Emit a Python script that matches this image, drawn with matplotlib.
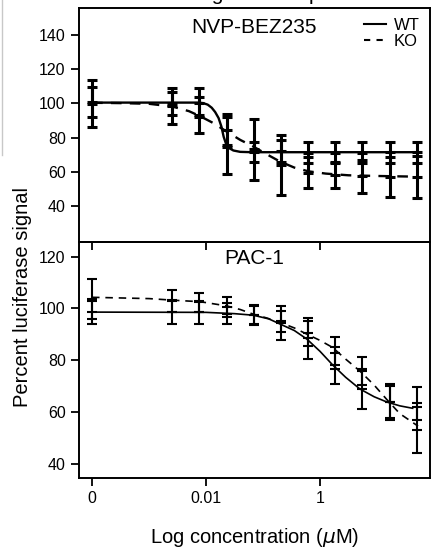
import numpy as np
import matplotlib
matplotlib.use("Agg")
import matplotlib.pyplot as plt
from matplotlib.lines import Line2D

plt.rcParams['font.family'] = ['Liberation Sans', 'DejaVu Sans']

####################### DATA #######################
# concentrations in uM, the "0" well is drawn at log10 = -4
conc = [0, 0.00254, 0.00762, 0.0229, 0.0686, 0.206, 0.617, 1.85, 5.56, 16.7, 50]
zero_pos = -4

# NVP-BEZ235 (top)
nvp_wt_mean = [100.7, 100.0, 100.5, 75.5, 71.7, 72.2, 71.3, 71.3, 71.3, 71.5, 71.5]
nvp_wt_err = [8.8, 6.8, 8.3, 16.8, 5.9, 6.3, 6.3, 6.3, 6.3, 6.1, 6.1]
nvp_ko_mean = [99.9, 98.4, 93.2, 84.2, 73.2, 64.0, 59.6, 58.0, 57.4, 57.2, 56.9]
nvp_ko_err = [13.9, 10.4, 10.7, 9.6, 18.0, 17.5, 9.2, 7.6, 9.6, 11.7, 12.4]

# fitted curves (log10 conc, percent)
nvp_wt_fit_x = [-4, -2.15, -2.05, -1.97, -1.9, -1.84, -1.78, -1.73, -1.69, -1.65, -1.6, -1.52, -1.4, -1.2, 1.7]
nvp_wt_fit_y = [100.5, 100.5, 100.2, 99.3, 97.5, 95, 91.5, 86.5, 80.5, 76.5, 74, 72.5, 71.7, 71.5, 71.5]
nvp_ko_fit_x = [-4, -3.5, -3.0, -2.59, -2.3, -2.1, -1.87, -1.64, -1.4, -1.17, -0.93, -0.7, -0.45, -0.2, 0.1, 0.5, 1.0, 1.7]
nvp_ko_fit_y = [100.4, 100.2, 99.8, 98.2, 95.5, 92.5, 88.5, 83.6, 78.7, 74.8, 70.2, 66, 62.5, 60.3, 59, 58, 57.6, 57.2]

# PAC-1 (bottom)
pac_wt_mean = [98.5, 98.7, 98.5, 98.0, 97.5, 94.5, 88.5, 78.1, 68.9, 64.0, 63.5]
pac_wt_err = [4.5, 4.7, 4.5, 4.0, 3.5, 6.5, 8.0, 7.0, 7.7, 6.0, 6.3]
pac_ko_mean = [103.6, 103.0, 102.3, 100.5, 97.5, 95.0, 90.4, 83.0, 76.0, 64.0, 53.2]
pac_ko_err = [7.7, 4.2, 3.6, 3.8, 4.0, 4.0, 4.8, 6.2, 5.3, 7.0, 9.0]

pac_wt_fit_x = [-4, -2, -1.5, -1.17, -0.9, -0.7, -0.45, -0.23, 0, 0.22, 0.45, 0.7, 0.95, 1.17, 1.4, 1.64]
pac_wt_fit_y = [98.6, 98.5, 98, 97.4, 96, 94, 91.5, 88.2, 83.5, 78.3, 73.5, 69, 66, 64, 62.5, 61.5]
pac_ko_fit_x = [-4, -3, -2.59, -2.1, -1.64, -1.4, -1.17, -0.93, -0.7, -0.45, -0.23, 0, 0.22, 0.45, 0.7, 0.95, 1.17, 1.4, 1.72]
pac_ko_fit_y = [104.3, 103.8, 103.2, 102.6, 101, 99.6, 97.8, 96.3, 94.6, 92.5, 90.1, 87.7, 85, 80.5, 75.9, 70.5, 65, 59.5, 54.7]

x_ticks = [-4, -2, 0]
x_ticklabels = ['0', '0.01', '1']

####################### PLOT #######################
x_pos = np.array([zero_pos if c == 0 else np.log10(c) for c in conc])

fig = plt.figure(figsize=(4.41, 5.49), dpi=100)
ax1 = fig.add_axes([0.179, 0.5592, 0.796, 0.4262])
ax2 = fig.add_axes([0.179, 0.1293, 0.796, 0.4299])
ax2.patch.set_visible(False)


def panel(ax, wt_m, wt_e, ko_m, ko_e, wfx, wfy, kfx, kfy, lw, flw):
    ax.plot(wfx, wfy, color='k', lw=flw, solid_capstyle='butt')
    ax.plot(kfx, kfy, color='k', lw=flw, linestyle=(0, (4.5, 3.5)))
    for m, e in ((wt_m, wt_e), (ko_m, ko_e)):
        ax.errorbar(x_pos, m, yerr=e, fmt='_', ms=7, mew=lw, color='k',
                    ecolor='k', elinewidth=lw, capsize=3.6, capthick=lw)
    ax.set_xlim(-4.23, 1.93)
    ax.set_xticks(x_ticks)
    for s in ax.spines.values():
        s.set_linewidth(1.4)
    ax.tick_params(direction='out', length=6, width=1.3, labelsize=11.5, colors='k')


panel(ax1, nvp_wt_mean, nvp_wt_err, nvp_ko_mean, nvp_ko_err,
      nvp_wt_fit_x, nvp_wt_fit_y, nvp_ko_fit_x, nvp_ko_fit_y, 2.2, 1.7)
panel(ax2, pac_wt_mean, pac_wt_err, pac_ko_mean, pac_ko_err,
      pac_wt_fit_x, pac_wt_fit_y, pac_ko_fit_x, pac_ko_fit_y, 1.5, 1.2)

ax1.set_ylim(19, 155.8)
ax1.set_yticks([40, 60, 80, 100, 120, 140])
ax1.set_xticklabels([])
ax2.set_ylim(34.7, 125.6)
ax2.set_yticks([40, 60, 80, 100, 120])
ax2.set_xticklabels(x_ticklabels)

ax1.text(0.5, 0.915, 'NVP-BEZ235', transform=ax1.transAxes, ha='center', va='center', fontsize=15)
ax2.text(0.5, 0.93, 'PAC-1', transform=ax2.transAxes, ha='center', va='center', fontsize=15)

handles = [Line2D([], [], color='k', lw=1.5),
           Line2D([], [], color='k', lw=1.5, linestyle=(0, (3, 3)))]
ax1.legend(handles, ['WT', 'KO'], loc='upper right', frameon=False, fontsize=12,
           handlelength=1.3, handletextpad=0.5, labelspacing=0.05,
           borderpad=0.3, borderaxespad=0.3)

fig.text(0.05, 1 - 297 / 549, 'Percent luciferase signal', rotation=90,
         ha='center', va='center', fontsize=14.5)
ax2.set_xlabel('Log concentration ($\\mu$M)', fontsize=14.5, labelpad=14)

# title of the figure, cut off at the top edge of the crop (as in the reference)
fig.text(177.7 / 441, 1 - 0.5 / 549, 'Drug dose response', ha='left', va='baseline', fontsize=15)
fig.add_artist(Line2D([0.004, 0.004], [1, 1 - 155 / 549], color='#c8c8c8', lw=1))

fig.savefig('out.png', dpi=100)
